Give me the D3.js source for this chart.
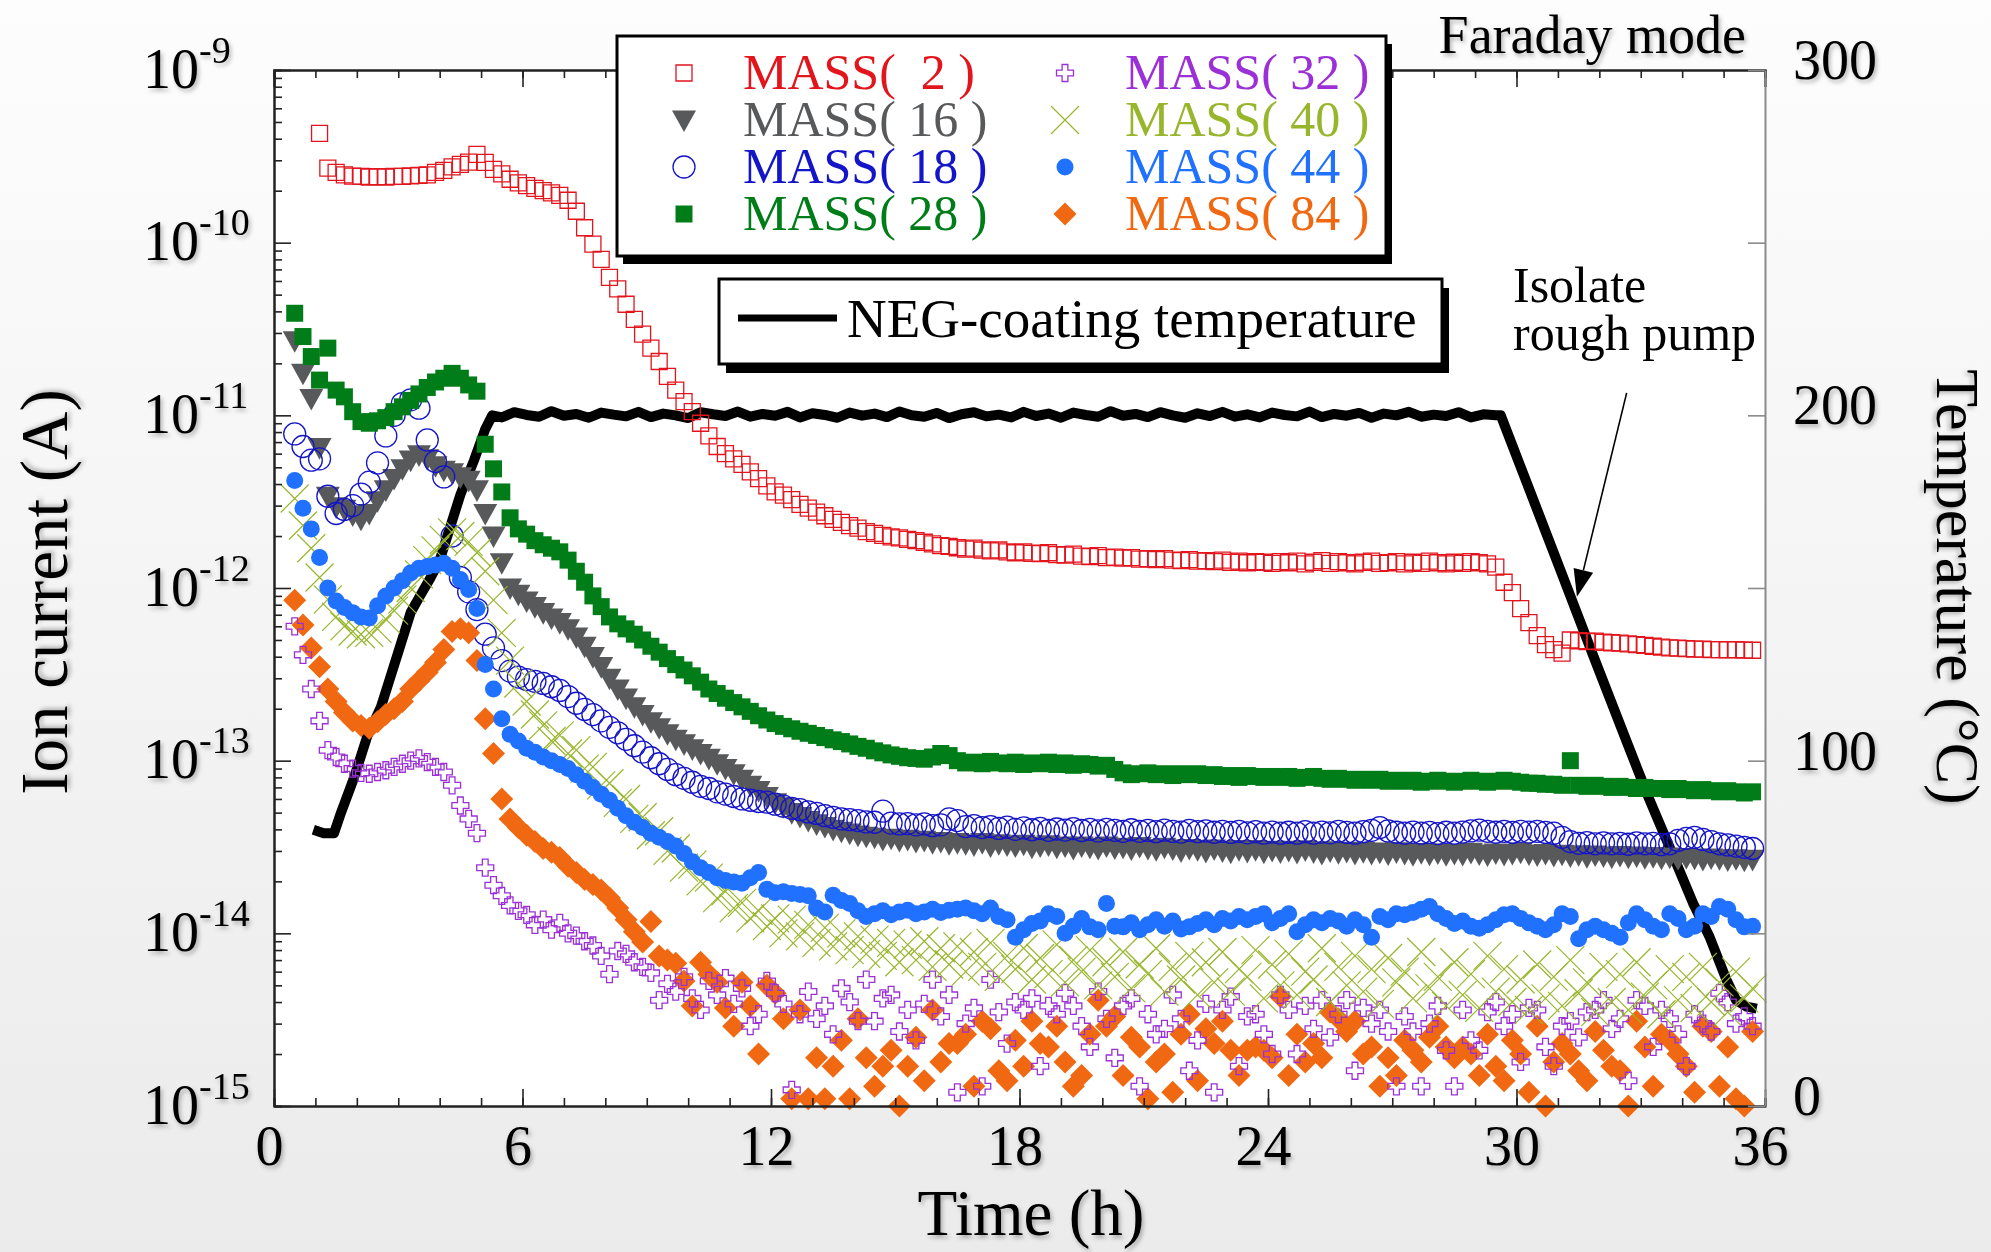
<!DOCTYPE html>
<html>
<head>
<meta charset="utf-8">
<script src="https://cdn.jsdelivr.net/npm/d3@7"></script>
<style>
  body { margin: 0; background: #f4f4f4; }
  svg text { font-family: "Liberation Serif", "Times New Roman", serif; }
</style>
</head>
<body>
<svg id="chart" width="1991" height="1252"></svg>
<script>
// RGA scan times (h); every series below has one ion current (A) per scan time, null = not recorded
const scanHours = [
  0.5, 0.7, 0.9, 1.1, 1.3, 1.5, 1.7, 1.9, 2.1, 2.3,
  2.5, 2.7, 2.9, 3.1, 3.3, 3.5, 3.7, 3.9, 4.1, 4.3,
  4.5, 4.7, 4.9, 5.1, 5.3, 5.5, 5.7, 5.9, 6.1, 6.3,
  6.5, 6.7, 6.9, 7.1, 7.3, 7.5, 7.7, 7.9, 8.1, 8.3,
  8.5, 8.7, 8.9, 9.1, 9.3, 9.5, 9.7, 9.9, 10.1, 10.3,
  10.5, 10.7, 10.9, 11.1, 11.3, 11.5, 11.7, 11.9, 12.1, 12.3,
  12.5, 12.7, 12.9, 13.1, 13.3, 13.5, 13.7, 13.9, 14.1, 14.3,
  14.5, 14.7, 14.9, 15.1, 15.3, 15.5, 15.7, 15.9, 16.1, 16.3,
  16.5, 16.7, 16.9, 17.1, 17.3, 17.5, 17.7, 17.9, 18.1, 18.3,
  18.5, 18.7, 18.9, 19.1, 19.3, 19.5, 19.7, 19.9, 20.1, 20.3,
  20.5, 20.7, 20.9, 21.1, 21.3, 21.5, 21.7, 21.9, 22.1, 22.3,
  22.5, 22.7, 22.9, 23.1, 23.3, 23.5, 23.7, 23.9, 24.1, 24.3,
  24.5, 24.7, 24.9, 25.1, 25.3, 25.5, 25.7, 25.9, 26.1, 26.3,
  26.5, 26.7, 26.9, 27.1, 27.3, 27.5, 27.7, 27.9, 28.1, 28.3,
  28.5, 28.7, 28.9, 29.1, 29.3, 29.5, 29.7, 29.9, 30.1, 30.3,
  30.5, 30.7, 30.9, 31.1, 31.3, 31.5, 31.7, 31.9, 32.1, 32.3,
  32.5, 32.7, 32.9, 33.1, 33.3, 33.5, 33.7, 33.9, 34.1, 34.3,
  34.5, 34.7, 34.9, 35.1, 35.3, 35.5, 35.7
];

const mass2 = [
  null, null, null, 4.3e-10, 2.7e-10, 2.55e-10, 2.47e-10, 2.43e-10, 2.42e-10, 2.4e-10,
  2.41e-10, 2.4e-10, 2.42e-10, 2.42e-10, 2.44e-10, 2.45e-10, 2.47e-10, 2.55e-10, 2.62e-10, 2.75e-10,
  2.84e-10, 2.93e-10, 3.25e-10, 2.92e-10, 2.66e-10, 2.5e-10, 2.33e-10, 2.22e-10, 2.14e-10, 2.06e-10,
  2.0e-10, 1.94e-10, 1.88e-10, 1.76e-10, 1.52e-10, 1.22e-10, 9.8e-11, 8.0e-11, 6.3e-11, 5.4e-11,
  4.4e-11, 3.6e-11, 2.95e-11, 2.45e-11, 2.05e-11, 1.68e-11, 1.4e-11, 1.2e-11, 1.05e-11, 9.0e-12,
  7.6e-12, 6.6e-12, 6.0e-12, 5.6e-12, 5.2e-12, 4.7e-12, 4.3e-12, 3.9e-12, 3.6e-12, 3.45e-12,
  3.25e-12, 3.05e-12, 2.9e-12, 2.75e-12, 2.62e-12, 2.5e-12, 2.4e-12, 2.3e-12, 2.22e-12, 2.12e-12,
  2.07e-12, 2.02e-12, 1.98e-12, 1.95e-12, 1.91e-12, 1.88e-12, 1.84e-12, 1.8e-12, 1.76e-12, 1.74e-12,
  1.71e-12, 1.68e-12, 1.7e-12, 1.66e-12, 1.64e-12, 1.66e-12, 1.62e-12, 1.6e-12, 1.62e-12, 1.59e-12,
  1.58e-12, 1.6e-12, 1.56e-12, 1.55e-12, 1.57e-12, 1.53e-12, 1.52e-12, 1.54e-12, 1.5e-12, 1.51e-12,
  1.49e-12, 1.5e-12, 1.47e-12, 1.48e-12, 1.46e-12, 1.48e-12, 1.45e-12, 1.44e-12, 1.46e-12, 1.43e-12,
  1.44e-12, 1.42e-12, 1.45e-12, 1.41e-12, 1.43e-12, 1.4e-12, 1.42e-12, 1.41e-12, 1.39e-12, 1.42e-12,
  1.4e-12, 1.43e-12, 1.38e-12, 1.41e-12, 1.44e-12, 1.39e-12, 1.42e-12, 1.4e-12, 1.38e-12, 1.41e-12,
  1.43e-12, 1.39e-12, 1.4e-12, 1.42e-12, 1.38e-12, 1.41e-12, 1.39e-12, 1.43e-12, 1.4e-12, 1.38e-12,
  1.41e-12, 1.39e-12, 1.42e-12, 1.4e-12, 1.38e-12, 1.32e-12, 1.08e-12, 9.4e-13, 7.6e-13, 6.3e-13,
  5.3e-13, 4.7e-13, 4.4e-13, 4.2e-13, 5.0e-13, 4.95e-13, 4.9e-13, 4.92e-13, 4.85e-13, 4.82e-13,
  4.8e-13, 4.75e-13, 4.7e-13, 4.65e-13, 4.6e-13, 4.55e-13, 4.5e-13, 4.48e-13, 4.45e-13, 4.42e-13,
  4.42e-13, 4.4e-13, 4.4e-13, 4.38e-13, 4.4e-13, 4.37e-13, 4.36e-13
];

const mass16 = [
  2.7e-11, 1.75e-11, 1.25e-11, 6.5e-12, 3.4e-12, 2.95e-12, 2.85e-12, 2.65e-12, 2.5e-12, 2.7e-12,
  3.2e-12, 3.7e-12, 4.3e-12, 4.9e-12, 5.5e-12, 5.9e-12, 5.6e-12, 5.1e-12, 4.8e-12, 4.65e-12,
  4.4e-12, 4.2e-12, 3.7e-12, 2.7e-12, 2.0e-12, 1.4e-12, 1.0e-12, 9.2e-13, 8.4e-13, 7.8e-13,
  7.2e-13, 6.7e-13, 6.3e-13, 5.8e-13, 5.2e-13, 4.6e-13, 4.0e-13, 3.5e-13, 3.0e-13, 2.6e-13,
  2.3e-13, 2.05e-13, 1.85e-13, 1.68e-13, 1.55e-13, 1.43e-13, 1.33e-13, 1.25e-13, 1.17e-13, 1.1e-13,
  1.03e-13, 9.6e-14, 9.0e-14, 8.4e-14, 7.8e-14, 7.2e-14, 6.7e-14, 6.2e-14, 5.7e-14, 5.4e-14,
  5.0e-14, 4.75e-14, 4.5e-14, 4.3e-14, 4.15e-14, 4.0e-14, 3.9e-14, 3.8e-14, 3.7e-14, 3.65e-14,
  3.6e-14, 3.5e-14, 3.55e-14, 3.45e-14, 3.5e-14, 3.4e-14, 3.45e-14, 3.35e-14, 3.4e-14, 3.3e-14,
  3.35e-14, 3.3e-14, 3.25e-14, 3.35e-14, 3.2e-14, 3.3e-14, 3.25e-14, 3.2e-14, 3.28e-14, 3.15e-14,
  3.2e-14, 3.25e-14, 3.15e-14, 3.2e-14, 3.1e-14, 3.2e-14, 3.15e-14, 3.1e-14, 3.2e-14, 3.12e-14,
  3.15e-14, 3.08e-14, 3.18e-14, 3.1e-14, 3.05e-14, 3.15e-14, 3.08e-14, 3.0e-14, 3.1e-14, 3.05e-14,
  2.98e-14, 3.08e-14, 3.0e-14, 2.95e-14, 3.05e-14, 2.98e-14, 3.05e-14, 2.95e-14, 3.02e-14, 2.96e-14,
  3.02e-14, 2.94e-14, 3.04e-14, 2.96e-14, 2.9e-14, 3.0e-14, 2.93e-14, 2.98e-14, 2.9e-14, 2.97e-14,
  2.9e-14, 2.95e-14, 2.88e-14, 2.96e-14, 2.9e-14, 2.85e-14, 2.93e-14, 2.87e-14, 2.92e-14, 2.85e-14,
  2.9e-14, 2.86e-14, 2.94e-14, 2.88e-14, 2.84e-14, 2.92e-14, 2.86e-14, 2.9e-14, 2.95e-14, 2.88e-14,
  2.84e-14, 2.9e-14, 2.82e-14, 2.87e-14, 2.8e-14, 2.85e-14, 2.78e-14, 2.84e-14, 2.8e-14, 2.76e-14,
  2.82e-14, 2.76e-14, 2.8e-14, 2.74e-14, 2.78e-14, 2.72e-14, 2.76e-14, 2.7e-14, 2.75e-14, 2.72e-14,
  2.68e-14, 2.73e-14, 2.7e-14, 2.66e-14, 2.7e-14, 2.65e-14, 2.68e-14
];

const mass18 = [
  7.8e-12, 6.6e-12, 5.5e-12, 5.6e-12, 3.4e-12, 2.7e-12, 2.85e-12, 3.0e-12, 3.5e-12, 4.1e-12,
  5.3e-12, 7.6e-12, 1.0e-11, 1.17e-11, 1.23e-11, 1.1e-11, 7.2e-12, 5.4e-12, 4.4e-12, 2.0e-12,
  1.15e-12, 9.5e-13, 7.5e-13, 5.4e-13, 4.5e-13, 3.8e-13, 3.3e-13, 3.05e-13, 2.95e-13, 2.88e-13,
  2.8e-13, 2.68e-13, 2.55e-13, 2.35e-13, 2.15e-13, 1.98e-13, 1.85e-13, 1.7e-13, 1.56e-13, 1.45e-13,
  1.33e-13, 1.22e-13, 1.12e-13, 1.04e-13, 9.6e-14, 8.9e-14, 8.3e-14, 7.9e-14, 7.5e-14, 7.1e-14,
  6.9e-14, 6.6e-14, 6.4e-14, 6.2e-14, 6.0e-14, 5.9e-14, 5.8e-14, 5.75e-14, 5.6e-14, 5.45e-14,
  5.3e-14, 5.2e-14, 5.05e-14, 4.95e-14, 4.8e-14, 4.7e-14, 4.6e-14, 4.55e-14, 4.5e-14, 4.42e-14,
  4.4e-14, 5.1e-14, 4.35e-14, 4.3e-14, 4.32e-14, 4.25e-14, 4.3e-14, 4.2e-14, 4.25e-14, 4.6e-14,
  4.5e-14, 4.15e-14, 4.2e-14, 4.1e-14, 4.15e-14, 4.05e-14, 4.12e-14, 4.0e-14, 4.08e-14, 3.98e-14,
  4.05e-14, 3.95e-14, 4.02e-14, 3.96e-14, 4.04e-14, 3.94e-14, 4.0e-14, 3.92e-14, 4.0e-14, 3.95e-14,
  3.9e-14, 3.98e-14, 3.9e-14, 3.95e-14, 3.88e-14, 3.96e-14, 3.9e-14, 3.86e-14, 3.95e-14, 3.88e-14,
  3.92e-14, 3.85e-14, 3.9e-14, 3.84e-14, 3.9e-14, 3.82e-14, 3.88e-14, 3.8e-14, 3.86e-14, 3.8e-14,
  3.85e-14, 3.8e-14, 3.88e-14, 3.8e-14, 3.86e-14, 3.82e-14, 3.9e-14, 3.84e-14, 3.8e-14, 3.88e-14,
  3.95e-14, 4.1e-14, 3.92e-14, 3.85e-14, 3.8e-14, 3.86e-14, 3.8e-14, 3.84e-14, 3.78e-14, 3.85e-14,
  3.8e-14, 3.86e-14, 3.92e-14, 3.96e-14, 3.9e-14, 3.85e-14, 3.9e-14, 3.84e-14, 3.9e-14, 3.86e-14,
  3.9e-14, 3.84e-14, 3.8e-14, 3.6e-14, 3.4e-14, 3.32e-14, 3.35e-14, 3.3e-14, 3.34e-14, 3.3e-14,
  3.32e-14, 3.28e-14, 3.34e-14, 3.3e-14, 3.32e-14, 3.26e-14, 3.3e-14, 3.45e-14, 3.55e-14, 3.6e-14,
  3.5e-14, 3.4e-14, 3.3e-14, 3.25e-14, 3.2e-14, 3.15e-14, 3.1e-14
];

const mass28 = [
  3.9e-11, 2.86e-11, 2.19e-11, 1.6e-11, 2.45e-11, 1.4e-11, 1.28e-11, 1.05e-11, 9.2e-12, 9.0e-12,
  9.3e-12, 9.7e-12, 1.05e-11, 1.12e-11, 1.22e-11, 1.33e-11, 1.45e-11, 1.56e-11, 1.64e-11, 1.75e-11,
  1.64e-11, 1.5e-11, 1.38e-11, 6.8e-12, 4.9e-12, 3.6e-12, 2.55e-12, 2.2e-12, 2.05e-12, 1.88e-12,
  1.78e-12, 1.7e-12, 1.62e-12, 1.45e-12, 1.25e-12, 1.08e-12, 9.0e-13, 7.8e-13, 6.8e-13, 6.2e-13,
  5.8e-13, 5.4e-13, 5.0e-13, 4.6e-13, 4.25e-13, 3.9e-13, 3.6e-13, 3.35e-13, 3.1e-13, 2.85e-13,
  2.6e-13, 2.45e-13, 2.3e-13, 2.17e-13, 2.05e-13, 1.93e-13, 1.82e-13, 1.72e-13, 1.64e-13, 1.58e-13,
  1.53e-13, 1.48e-13, 1.44e-13, 1.4e-13, 1.36e-13, 1.32e-13, 1.29e-13, 1.25e-13, 1.21e-13, 1.18e-13,
  1.14e-13, 1.11e-13, 1.08e-13, 1.06e-13, 1.04e-13, 1.03e-13, 1.02e-13, 1.05e-13, 1.1e-13, 1.07e-13,
  1.0e-13, 9.7e-14, 9.8e-14, 9.6e-14, 9.9e-14, 9.7e-14, 9.6e-14, 9.8e-14, 9.5e-14, 9.7e-14,
  9.6e-14, 9.8e-14, 9.5e-14, 9.7e-14, 9.4e-14, 9.6e-14, 9.5e-14, 9.3e-14, 9.4e-14, 8.9e-14,
  8.5e-14, 8.3e-14, 8.4e-14, 8.5e-14, 8.3e-14, 8.4e-14, 8.2e-14, 8.4e-14, 8.3e-14, 8.4e-14,
  8.2e-14, 8.3e-14, 8.1e-14, 8.2e-14, 8.0e-14, 8.2e-14, 8.1e-14, 8.0e-14, 8.1e-14, 8.0e-14,
  8.1e-14, 7.9e-14, 8.0e-14, 8.1e-14, 7.9e-14, 7.8e-14, 7.9e-14, 7.8e-14, 7.7e-14, 7.8e-14,
  7.7e-14, 7.8e-14, 7.6e-14, 7.7e-14, 7.6e-14, 7.7e-14, 7.5e-14, 7.6e-14, 7.7e-14, 7.6e-14,
  7.5e-14, 7.6e-14, 7.7e-14, 7.6e-14, 7.5e-14, 7.6e-14, 7.7e-14, 7.6e-14, 7.5e-14, 7.4e-14,
  7.4e-14, 7.3e-14, 7.3e-14, 7.2e-14, 1.0e-13, 7.2e-14, 7.1e-14, 7.2e-14, 7.1e-14, 7.0e-14,
  7.1e-14, 7.0e-14, 6.9e-14, 7.0e-14, 6.9e-14, 6.9e-14, 6.8e-14, 6.9e-14, 6.8e-14, 6.7e-14,
  6.8e-14, 6.7e-14, 6.6e-14, 6.7e-14, 6.6e-14, 6.5e-14, 6.6e-14
];

const mass32 = [
  6.0e-13, 4.1e-13, 2.6e-13, 1.7e-13, 1.15e-13, 1.05e-13, 9.6e-14, 9.0e-14, 8.5e-14, 8.4e-14,
  8.6e-14, 8.8e-14, 9.2e-14, 9.6e-14, 1.0e-13, 1.03e-13, 9.8e-14, 9.2e-14, 8.6e-14, 7.2e-14,
  5.5e-14, 4.6e-14, 3.8e-14, 2.4e-14, 1.9e-14, 1.65e-14, 1.45e-14, 1.35e-14, 1.28e-14, 1.12e-14,
  1.2e-14, 1.05e-14, 1.15e-14, 1.0e-14, 9.7e-15, 9.0e-15, 8.5e-15, 7.4e-15, 5.8e-15, 7.9e-15,
  7.6e-15, 6.8e-15, 6.4e-15, 5.9e-15, 4.1e-15, 5.1e-15, 4.6e-15, 5.6e-15, 4.2e-15, 3.6e-15,
  5.3e-15, 4.4e-15, 5.5e-15, 3.9e-15, 4.8e-15, 2.9e-15, 3.4e-15, 5.3e-15, 4.5e-15, 3.9e-15,
  1.24e-15, 3.4e-15, 4.6e-15, 3.2e-15, 3.8e-15, 2.6e-15, 4.8e-15, 4.0e-15, 3.1e-15, 5.4e-15,
  3.1e-15, 4.2e-15, 4.4e-15, 2.7e-15, 3.6e-15, 2.4e-15, 3.9e-15, 5.4e-15, 3.3e-15, 4.4e-15,
  1.2e-15, 3.0e-15, 3.7e-15, 1.3e-15, 5.4e-15, 3.5e-15, 2.3e-15, 4.0e-15, 3.6e-15, 4.2e-15,
  1.7e-15, 3.8e-15, 3.4e-15, 4.5e-15, 3.8e-15, 2.9e-15, 2.2e-15, 4.6e-15, 3.2e-15, 1.9e-15,
  3.8e-15, 4.2e-15, 1.3e-15, 3.4e-15, 2.6e-15, 2.8e-15, 4.4e-15, 3.2e-15, 1.6e-15, 2.4e-15,
  3.9e-15, 1.2e-15, 3.6e-15, 4.3e-15, 1.7e-15, 3.3e-15, 3.4e-15, 2.6e-15, 2.0e-15, 4.4e-15,
  3.6e-15, 2.0e-15, 3.8e-15, 2.8e-15, 4.1e-15, 2.5e-15, 3.4e-15, 4.1e-15, 1.6e-15, 3.7e-15,
  3.0e-15, 3.6e-15, 2.7e-15, 1.3e-15, 3.3e-15, 2.7e-15, 1.3e-15, 3.0e-15, 3.8e-15, 2.1e-15,
  1.3e-15, 3.6e-15, 2.4e-15, 2.1e-15, 3.5e-15, 4.0e-15, 2.9e-15, 3.4e-15, 1.8e-15, 3.7e-15,
  3.6e-15, 2.2e-15, 1.7e-15, 2.9e-15, 3.1e-15, 2.5e-15, 3.5e-15, 3.6e-15, 4.1e-15, 2.8e-15,
  3.2e-15, 1.4e-15, 4.1e-15, 3.8e-15, 2.2e-15, 3.6e-15, 3.2e-15, 2.6e-15, 1.7e-15, 3.4e-15,
  3.0e-15, 2.7e-15, 4.5e-15, 4.0e-15, 3.0e-15, 3.3e-15, 2.9e-15
];

const mass40 = [
  3.3e-12, 2.3e-12, 1.7e-12, 1.15e-12, 8.6e-13, 6.8e-13, 6.0e-13, 5.6e-13, 5.4e-13, 5.5e-13,
  5.8e-13, 6.6e-13, 7.4e-13, 8.6e-13, 1.0e-12, 1.2e-12, 1.45e-12, 1.65e-12, 1.9e-12, 2.1e-12,
  2.0e-12, 1.85e-12, 1.6e-12, 1.25e-12, 8.5e-13, 5.5e-13, 3.8e-13, 2.8e-13, 2.2e-13, 1.85e-13,
  1.6e-13, 1.3e-13, 1.4e-13, 1.1e-13, 1.15e-13, 9.0e-14, 9.2e-14, 7.2e-14, 7.4e-14, 5.7e-14,
  6.0e-14, 4.6e-14, 4.7e-14, 3.7e-14, 3.9e-14, 3.0e-14, 3.1e-14, 2.4e-14, 2.5e-14, 2.0e-14,
  2.1e-14, 1.6e-14, 1.75e-14, 1.4e-14, 1.5e-14, 1.22e-14, 1.35e-14, 1.1e-14, 1.22e-14, 1.0e-14,
  1.2e-14, 9.6e-15, 1.12e-14, 8.8e-15, 1.08e-14, 8.4e-15, 1.0e-14, 8.0e-15, 9.6e-15, 7.6e-15,
  9.2e-15, 7.4e-15, 8.8e-15, 6.8e-15, 8.6e-15, 7.0e-15, 9.0e-15, 6.4e-15, 8.2e-15, 6.6e-15,
  8.4e-15, 6.0e-15, 7.8e-15, 6.4e-15, 8.8e-15, 5.6e-15, 7.4e-15, 6.2e-15, 8.2e-15, 5.4e-15,
  7.2e-15, 5.8e-15, 8.6e-15, 5.2e-15, 7.0e-15, 6.0e-15, 8.0e-15, 5.0e-15, 6.8e-15, 5.6e-15,
  7.8e-15, 4.8e-15, 6.6e-15, 5.8e-15, 8.2e-15, 4.6e-15, 6.4e-15, 5.4e-15, 7.4e-15, 4.4e-15,
  6.8e-15, 5.2e-15, 7.8e-15, 4.6e-15, 6.2e-15, 5.6e-15, 8.0e-15, 4.2e-15, 6.6e-15, 5.0e-15,
  7.6e-15, 4.4e-15, 6.0e-15, 5.4e-15, 8.2e-15, 4.0e-15, 6.4e-15, 5.0e-15, 7.4e-15, 4.6e-15,
  6.2e-15, 3.9e-15, 7.2e-15, 5.2e-15, 6.0e-15, 4.2e-15, 7.8e-15, 4.8e-15, 5.6e-15, 3.8e-15,
  6.8e-15, 4.4e-15, 5.8e-15, 3.7e-15, 7.4e-15, 4.6e-15, 6.2e-15, 4.0e-15, 5.4e-15, 3.6e-15,
  6.6e-15, 4.2e-15, 5.6e-15, 3.8e-15, 7.0e-15, 4.5e-15, 5.2e-15, 3.5e-15, 6.4e-15, 4.0e-15,
  5.8e-15, 3.6e-15, 6.8e-15, 4.3e-15, 5.0e-15, 3.4e-15, 6.2e-15, 4.1e-15, 5.6e-15, 3.7e-15,
  6.4e-15, 4.0e-15, 5.2e-15, 3.5e-15, 6.0e-15, 4.2e-15, 4.8e-15
];

const mass44 = [
  4.2e-12, 2.9e-12, 2.2e-12, 1.5e-12, 1.0e-12, 8.4e-13, 7.7e-13, 7.2e-13, 6.8e-13, 6.7e-13,
  7.9e-13, 9.0e-13, 1.0e-12, 1.1e-12, 1.22e-12, 1.3e-12, 1.33e-12, 1.36e-12, 1.39e-12, 1.3e-12,
  1.12e-12, 9.8e-13, 7.6e-13, 3.6e-13, 2.6e-13, 1.75e-13, 1.42e-13, 1.3e-13, 1.18e-13, 1.12e-13,
  1.05e-13, 1.0e-13, 9.5e-14, 9.0e-14, 8.3e-14, 7.6e-14, 7.0e-14, 6.4e-14, 5.9e-14, 5.3e-14,
  4.8e-14, 4.4e-14, 4.1e-14, 3.8e-14, 3.6e-14, 3.4e-14, 3.2e-14, 2.9e-14, 2.6e-14, 2.4e-14,
  2.25e-14, 2.1e-14, 2.02e-14, 1.98e-14, 1.95e-14, 2.1e-14, 2.25e-14, 1.8e-14, 1.72e-14, 1.74e-14,
  1.7e-14, 1.68e-14, 1.65e-14, 1.4e-14, 1.33e-14, 1.66e-14, 1.55e-14, 1.49e-14, 1.35e-14, 1.25e-14,
  1.3e-14, 1.35e-14, 1.28e-14, 1.33e-14, 1.36e-14, 1.3e-14, 1.33e-14, 1.38e-14, 1.32e-14, 1.36e-14,
  1.38e-14, 1.4e-14, 1.35e-14, 1.3e-14, 1.4e-14, 1.25e-14, 1.2e-14, 9.5e-15, 1.05e-14, 1.14e-14,
  1.18e-14, 1.3e-14, 1.25e-14, 1.0e-14, 1.1e-14, 1.22e-14, 1.09e-14, 1.05e-14, 1.49e-14, 1.1e-14,
  1.09e-14, 1.15e-14, 1.05e-14, 1.12e-14, 1.2e-14, 1.1e-14, 1.18e-14, 1.06e-14, 1.09e-14, 1.14e-14,
  1.2e-14, 1.12e-14, 1.22e-14, 1.18e-14, 1.25e-14, 1.2e-14, 1.25e-14, 1.3e-14, 1.15e-14, 1.22e-14,
  1.3e-14, 1.02e-14, 1.12e-14, 1.2e-14, 1.15e-14, 1.22e-14, 1.18e-14, 1.1e-14, 1.2e-14, 1.12e-14,
  9.5e-15, 1.25e-14, 1.2e-14, 1.3e-14, 1.28e-14, 1.32e-14, 1.38e-14, 1.43e-14, 1.3e-14, 1.22e-14,
  1.14e-14, 1.18e-14, 1.1e-14, 1.07e-14, 1.12e-14, 1.2e-14, 1.28e-14, 1.3e-14, 1.22e-14, 1.15e-14,
  1.1e-14, 1.05e-14, 1.12e-14, 1.3e-14, 1.25e-14, 9.3e-15, 1.05e-14, 1.1e-14, 1.05e-14, 1.0e-14,
  9.5e-15, 1.15e-14, 1.3e-14, 1.2e-14, 1.1e-14, 1.05e-14, 1.3e-14, 1.22e-14, 1.05e-14, 1.1e-14,
  1.3e-14, 1.25e-14, 1.43e-14, 1.38e-14, 1.2e-14, 1.09e-14, 1.1e-14
];

const mass84 = [
  8.5e-13, 6.1e-13, 4.5e-13, 3.5e-13, 2.6e-13, 2.2e-13, 1.9e-13, 1.7e-13, 1.6e-13, 1.54e-13,
  1.68e-13, 1.85e-13, 2.0e-13, 2.2e-13, 2.6e-13, 2.9e-13, 3.25e-13, 3.7e-13, 4.4e-13, 5.6e-13,
  5.8e-13, 5.5e-13, 3.8e-13, 1.75e-13, 1.1e-13, 6.0e-14, 4.6e-14, 4.1e-14, 3.7e-14, 3.4e-14,
  3.1e-14, 2.95e-14, 2.75e-14, 2.45e-14, 2.25e-14, 2.05e-14, 1.92e-14, 1.78e-14, 1.6e-14, 1.4e-14,
  1.2e-14, 1.02e-14, 8.9e-15, 1.17e-14, 7.4e-15, 7.0e-15, 6.7e-15, 5.3e-15, 3.8e-15, 6.8e-15,
  5.8e-15, 5.2e-15, 3.7e-15, 2.9e-15, 5.2e-15, 3.8e-15, 2.0e-15, 5.0e-15, 4.5e-15, 3.2e-15,
  1.1e-15, 3.6e-15, 1.1e-15, 1.9e-15, 1.1e-15, 1.7e-15, 2.4e-15, 1.1e-15, 3.2e-15, 1.9e-15,
  1.3e-15, 1.7e-15, 2.1e-15, 1.0e-15, 1.7e-15, 2.5e-15, 1.4e-15, 3.6e-15, 1.8e-15, 2.3e-15,
  2.3e-15, 2.6e-15, 1.3e-15, 3.1e-15, 2.8e-15, 1.6e-15, 1.4e-15, 2.4e-15, 1.7e-15, 3.1e-15,
  2.3e-15, 2.2e-15, 2.9e-15, 1.8e-15, 1.3e-15, 1.5e-15, 2.6e-15, 4.1e-15, 2.9e-15, 3.3e-15,
  1.5e-15, 2.5e-15, 2.2e-15, 1.1e-15, 1.8e-15, 2.0e-15, 1.2e-15, 2.6e-15, 3.4e-15, 1.4e-15,
  2.8e-15, 2.3e-15, 3.1e-15, 2.1e-15, 1.5e-15, 2.1e-15, 2.2e-15, 2.1e-15, 1.9e-15, 4.3e-15,
  1.5e-15, 2.6e-15, 1.8e-15, 2.3e-15, 1.9e-15, 3.5e-15, 3.2e-15, 2.7e-15, 3.1e-15, 2.0e-15,
  2.2e-15, 1.3e-15, 1.9e-15, 1.5e-15, 2.4e-15, 2.1e-15, 1.8e-15, 2.5e-15, 2.9e-15, 2.2e-15,
  1.9e-15, 2.2e-15, 2.0e-15, 1.5e-15, 2.6e-15, 1.7e-15, 1.4e-15, 2.4e-15, 2.0e-15, 1.2e-15,
  2.9e-15, 1.0e-15, 1.8e-15, 2.3e-15, 2.0e-15, 1.6e-15, 1.4e-15, 2.7e-15, 2.1e-15, 1.7e-15,
  1.6e-15, 1.0e-15, 3.1e-15, 2.2e-15, 1.3e-15, 2.6e-15, 2.4e-15, 2.0e-15, 1.7e-15, 1.2e-15,
  2.9e-15, 2.7e-15, 1.3e-15, 2.2e-15, 1.1e-15, 1.0e-15, 2.7e-15
];

// NEG-coating temperature (°C)
const tempHours = [
  0.95, 1.2, 1.45, 1.62, 1.93, 2.25, 2.58, 2.82, 3.06, 3.3, 3.54, 3.78, 4.0, 4.5, 4.83, 4.95, 5.1, 5.27,
  5.5, 5.8, 6.1, 6.4, 6.7, 7.0, 7.3, 7.6, 7.9, 8.2,
  8.5, 8.8, 9.1, 9.4, 9.7, 10.0, 10.3, 10.6, 10.9, 11.2,
  11.5, 11.8, 12.1, 12.4, 12.7, 13.0, 13.3, 13.6, 13.9, 14.2,
  14.5, 14.8, 15.1, 15.4, 15.7, 16.0, 16.3, 16.6, 16.9, 17.2,
  17.5, 17.8, 18.1, 18.4, 18.7, 19.0, 19.3, 19.6, 19.9, 20.2,
  20.5, 20.8, 21.1, 21.4, 21.7, 22.0, 22.3, 22.6, 22.9, 23.2,
  23.5, 23.8, 24.1, 24.4, 24.7, 25.0, 25.3, 25.6, 25.9, 26.2,
  26.5, 26.8, 27.1, 27.4, 27.7, 28.0, 28.3, 28.6, 28.9, 29.2,
  29.5, 29.62, 30.25, 31.05, 31.85, 32.66, 33.2, 33.87, 34.26, 34.66, 35.07, 35.3, 35.55, 35.8
];
const tempValues = [
  80, 79, 79, 85, 95, 107, 115.5, 124.6, 133.7, 142.9, 148, 153, 158, 177, 187, 191, 196, 200,
  199.4, 200.9, 200.1, 199.6, 201.2, 199.9, 200.4, 199.3, 200.8, 200.2,
  199.7, 201.0, 199.5, 200.5, 200.0, 199.2, 200.9, 200.3, 199.8, 201.1,
  199.6, 200.4, 199.9, 201.0, 199.4, 200.6, 200.1, 199.3, 200.8, 199.9,
  200.5, 199.5, 201.1, 200.0, 199.6, 200.7, 199.2, 200.3, 200.9, 199.7,
  200.2, 199.4, 201.0, 199.8, 200.5, 199.3, 200.8, 200.1, 199.6, 201.2,
  199.9, 200.4, 199.5, 200.9, 200.0, 199.3, 200.6, 199.8, 201.0, 199.6,
  200.3, 199.4, 200.8, 200.1, 199.7, 201.1, 199.5, 200.4, 199.9, 200.7,
  199.3, 200.5, 200.0, 201.0, 199.6, 200.2, 199.8, 200.9, 199.4, 200.3,
  200.0, 200.0, 180.4, 155.5, 130.5, 105.5, 89, 70, 58.8, 49, 36.5, 30.7, 28.8, 28.2
];

// axes
const hourTicks = [0, 6, 12, 18, 24, 30, 36];
const currentDecades = [1e-15, 1e-14, 1e-13, 1e-12, 1e-11, 1e-10, 1e-9];
const tempTickMarks = [0, 50, 100, 150, 200, 250, 300];
const tempTickLabels = [0, 100, 200, 300];

// ---------------------------------------------------------------
const svg = d3.select('#chart');
const W = 1991, H = 1252;
const plot = { left: 274, right: 1765, top: 70, bottom: 1106 };
const serif = '"Liberation Serif", "Times New Roman", serif';

const x = d3.scaleLinear().domain([0, 36]).range([plot.left, plot.right]);
const y = d3.scaleLog().domain([1e-15, 1e-9]).range([plot.bottom, plot.top]);
const yT = d3.scaleLinear().domain([0, 300]).range([plot.bottom, plot.top]);

const defs = svg.append('defs');
const bg = defs.append('linearGradient').attr('id', 'bg').attr('x1', 0).attr('y1', 0).attr('x2', 0).attr('y2', 1);
bg.append('stop').attr('offset', '0%').attr('stop-color', '#fdfdfd');
bg.append('stop').attr('offset', '100%').attr('stop-color', '#ebebeb');
const soft = defs.append('filter').attr('id', 'soft')
  .attr('x', '-20%').attr('y', '-20%').attr('width', '140%').attr('height', '140%');
soft.append('feDropShadow').attr('dx', 2).attr('dy', 3).attr('stdDeviation', 2.2)
  .attr('flood-color', '#000').attr('flood-opacity', 0.28);

svg.append('rect').attr('width', W).attr('height', H).attr('fill', 'url(#bg)');
svg.append('rect')
  .attr('x', plot.left).attr('y', plot.top)
  .attr('width', plot.right - plot.left).attr('height', plot.bottom - plot.top)
  .attr('fill', '#fff');

// marker shapes, size = half width in px
const shapes = {
  square(c, r) { c.rect(-r, -r, 2 * r, 2 * r); },
  triangleDown(c, r) { c.moveTo(-r, -0.8 * r); c.lineTo(r, -0.8 * r); c.lineTo(0, r); c.closePath(); },
  circle(c, r) { c.moveTo(r, 0); c.arc(0, 0, r, 0, 2 * Math.PI); },
  diamond(c, r) { c.moveTo(0, -r); c.lineTo(r, 0); c.lineTo(0, r); c.lineTo(-r, 0); c.closePath(); },
  plus(c, r) {
    const a = r * 0.34;
    c.moveTo(-a, -r); c.lineTo(a, -r); c.lineTo(a, -a); c.lineTo(r, -a); c.lineTo(r, a); c.lineTo(a, a);
    c.lineTo(a, r); c.lineTo(-a, r); c.lineTo(-a, a); c.lineTo(-r, a); c.lineTo(-r, -a); c.lineTo(-a, -a);
    c.closePath();
  },
  times(c, r) { c.moveTo(-r, -r); c.lineTo(r, r); c.moveTo(-r, r); c.lineTo(r, -r); }
};
const symbolPath = (shape, r) => d3.symbol().type({ draw: shapes[shape] }).size(r)();

const series = [
  { label: 'MASS(  2 )', values: mass2,  shape: 'square',       r: 8,    color: '#e3151c', filled: false, sw: 1.3 },
  { label: 'MASS( 16 )', values: mass16, shape: 'triangleDown', r: 12,   color: '#58595b', filled: true },
  { label: 'MASS( 18 )', values: mass18, shape: 'circle',       r: 11,   color: '#1414c8', filled: false, sw: 1.3 },
  { label: 'MASS( 28 )', values: mass28, shape: 'square',       r: 8.5,  color: '#007d18', filled: true },
  { label: 'MASS( 32 )', values: mass32, shape: 'plus',         r: 8.5,  color: '#9b30d6', filled: false, sw: 1.3 },
  { label: 'MASS( 40 )', values: mass40, shape: 'times',        r: 14,   color: '#98b62c', filled: false, sw: 1.2 },
  { label: 'MASS( 44 )', values: mass44, shape: 'circle',       r: 8.5,  color: '#2071ff', filled: true },
  { label: 'MASS( 84 )', values: mass84, shape: 'diamond',      r: 11.5, color: '#f06912', filled: true }
];
const drawOrder = [0, 1, 2, 3, 7, 4, 5, 6];

function styleMarker(sel, s) {
  sel.attr('fill', s.filled ? s.color : 'none')
    .attr('stroke', s.filled ? 'none' : s.color)
    .attr('stroke-width', s.sw || 0);
}

// temperature line (under the markers)
const tempLine = d3.line().x(d => x(d[0])).y(d => yT(d[1]));
svg.append('path')
  .datum(tempHours.map((h, i) => [h, tempValues[i]]))
  .attr('d', tempLine)
  .attr('fill', 'none').attr('stroke', '#000').attr('stroke-width', 10)
  .attr('stroke-linejoin', 'round');

// markers
drawOrder.forEach(k => {
  const s = series[k];
  const pts = scanHours.map((h, i) => [h, s.values[i]]).filter(d => d[1] != null);
  svg.append('g').selectAll('path').data(pts).join('path')
    .attr('transform', d => `translate(${x(d[0])},${y(d[1])})`)
    .attr('d', symbolPath(s.shape, s.r))
    .call(styleMarker, s);
});

// ---------------------------------------------------------------
// axes
function tidy(g, color) {
  g.attr('color', color).attr('font-family', serif).attr('font-size', 56);
  g.selectAll('.tick line').attr('stroke-width', 1.6);
  g.select('.domain').attr('stroke-width', 2);
  g.selectAll('.tick text').filter(function () { return this.textContent === ''; }).remove();
}
const minorHours = d3.range(0, 37);
const minorCurrents = d3.range(-15, -9).flatMap(e => d3.range(2, 10).map(m => m * Math.pow(10, e)));

// bottom
svg.append('g').attr('transform', `translate(0,${plot.bottom})`)
  .call(d3.axisBottom(x).tickValues(minorHours).tickSize(-8).tickFormat(''))
  .call(tidy, '#222');
const bottomAxis = svg.append('g').attr('transform', `translate(0,${plot.bottom})`)
  .call(d3.axisBottom(x).tickValues(hourTicks).tickSizeInner(-17).tickSizeOuter(0).tickPadding(19))
  .call(tidy, '#222');
bottomAxis.selectAll('text').attr('x', -5).attr('fill', '#000').attr('filter', 'url(#soft)');

// top
svg.append('g').attr('transform', `translate(0,${plot.top})`)
  .call(d3.axisTop(x).tickValues(minorHours).tickSize(-8).tickFormat(''))
  .call(tidy, '#222');
svg.append('g').attr('transform', `translate(0,${plot.top})`)
  .call(d3.axisTop(x).tickValues(hourTicks).tickSize(-17).tickFormat(''))
  .call(tidy, '#222');

// left (log)
svg.append('g').attr('transform', `translate(${plot.left},0)`)
  .call(d3.axisLeft(y).tickValues(minorCurrents).tickSize(-8).tickFormat(''))
  .call(tidy, '#222');
const leftAxis = svg.append('g').attr('transform', `translate(${plot.left},0)`)
  .call(d3.axisLeft(y).tickValues(currentDecades).tickSizeInner(-17).tickSizeOuter(0))
  .call(tidy, '#222');
leftAxis.selectAll('text').each(function (d) {
  const t = d3.select(this).text('')
    .attr('x', 143 - plot.left).attr('dy', 17).attr('text-anchor', 'start')
    .attr('fill', '#000').attr('filter', 'url(#soft)');
  t.append('tspan').text('10');
  t.append('tspan').attr('dy', -25).attr('font-size', 38).text(String(Math.round(Math.log10(d))));
});

// right (temperature)
const rightAxis = svg.append('g').attr('transform', `translate(${plot.right},0)`)
  .call(d3.axisRight(yT).tickValues(tempTickMarks).tickSizeInner(-17).tickSizeOuter(0).tickPadding(28)
    .tickFormat(d => tempTickLabels.includes(d) ? d : ''))
  .call(tidy, '#8a8a8a');
rightAxis.selectAll('text').attr('dy', '0.15em').attr('fill', '#000').attr('filter', 'url(#soft)');

// axis titles
svg.append('text')
  .attr('transform', 'translate(67,592) rotate(-90)')
  .attr('text-anchor', 'middle').attr('font-size', 67).attr('filter', 'url(#soft)')
  .text('Ion current (A)');
svg.append('text')
  .attr('x', 1031).attr('y', 1235)
  .attr('text-anchor', 'middle').attr('font-size', 65).attr('filter', 'url(#soft)')
  .text('Time (h)');
svg.append('text')
  .attr('transform', 'translate(1937,587) rotate(90)')
  .attr('text-anchor', 'middle').attr('font-size', 62).attr('filter', 'url(#soft)')
  .text('Temperature (°C)');
svg.append('text')
  .attr('x', 1746).attr('y', 53)
  .attr('text-anchor', 'end').attr('font-size', 54).attr('filter', 'url(#soft)')
  .text('Faraday mode');

// ---------------------------------------------------------------
// legends
function shadowBox(bx, by, bw, bh, sx, sy) {
  svg.append('rect').attr('x', bx + sx).attr('y', by + sy).attr('width', bw).attr('height', bh).attr('fill', '#000');
  svg.append('rect').attr('x', bx).attr('y', by).attr('width', bw).attr('height', bh)
    .attr('fill', '#fff').attr('stroke', '#000').attr('stroke-width', 3);
}
shadowBox(617, 36, 769, 220, 6, 8);
const legendRows = [89, 136, 183, 230];
const legendCols = [{ sym: 684, txt: 743 }, { sym: 1065, txt: 1125 }];
series.forEach((s, i) => {
  const col = legendCols[Math.floor(i / 4)], row = legendRows[i % 4];
  svg.append('path')
    .attr('transform', `translate(${col.sym},${row - 16})`)
    .attr('d', symbolPath(s.shape, s.r))
    .call(styleMarker, s);
  svg.append('text')
    .attr('x', col.txt).attr('y', row)
    .attr('font-size', 50).attr('fill', s.color).style('white-space', 'pre')
    .text(s.label);
});

shadowBox(719, 279, 723, 85, 7, 9);
svg.append('line').attr('x1', 738).attr('x2', 837).attr('y1', 318).attr('y2', 318)
  .attr('stroke', '#000').attr('stroke-width', 7);
svg.append('text').attr('x', 847).attr('y', 337).attr('font-size', 55)
  .text('NEG-coating temperature');

// annotation
svg.append('text').attr('x', 1513).attr('y', 302).attr('font-size', 50).text('Isolate');
svg.append('text').attr('x', 1513).attr('y', 350).attr('font-size', 50).text('rough pump');
const tail = [x(32.66), yT(206.5)], tip = [x(31.46), yT(147.5)];
const dx = tip[0] - tail[0], dy = tip[1] - tail[1], len = Math.hypot(dx, dy);
const ux = dx / len, uy = dy / len, headL = 27, headW = 10;
const base = [tip[0] - ux * headL, tip[1] - uy * headL];
svg.append('line').attr('x1', tail[0]).attr('y1', tail[1]).attr('x2', base[0]).attr('y2', base[1])
  .attr('stroke', '#000').attr('stroke-width', 1.6);
svg.append('path')
  .attr('d', `M${tip[0]},${tip[1]}L${base[0] - uy * headW},${base[1] + ux * headW}L${base[0] + uy * headW},${base[1] - ux * headW}Z`)
  .attr('fill', '#000');
</script>
</body>
</html>
